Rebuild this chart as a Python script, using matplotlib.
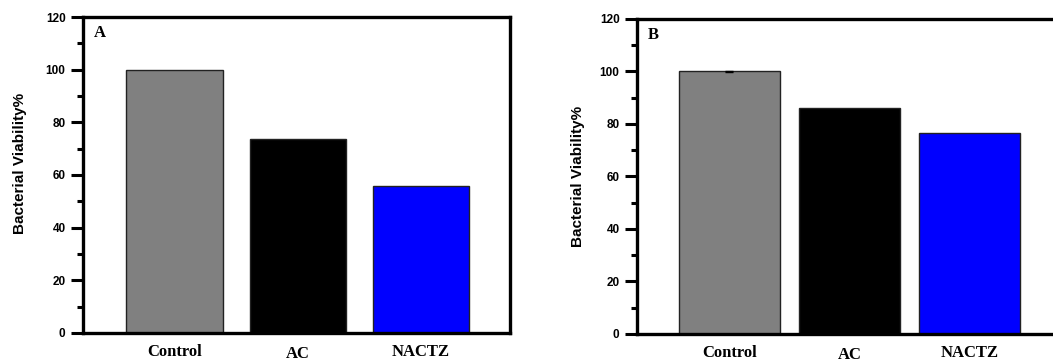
import matplotlib
matplotlib.use("Agg")
import matplotlib.pyplot as plt
from matplotlib.ticker import MultipleLocator

# data
groups = ["Control", "AC", "NACTZ"]
viab_a = [100.0, 73.5, 55.8]
viab_b = [100.0, 86.0, 76.7]
err_b_control = 0.3
bar_colors = ["#808080", "#000000", "#0000ff"]
panel_names = ["A", "B"]

plt.rcParams["font.family"] = ["Liberation Sans", "DejaVu Sans"]

fig = plt.figure(figsize=(10.53, 3.61), dpi=100)
axA = fig.add_axes([0.0788, 0.0776, 0.4055, 0.8753])
axB = fig.add_axes([0.6049, 0.0748, 0.4017, 0.8726])

x = [1, 2, 3]

def style(ax, xlim, lbl, ylab_pos):
    ax.set_ylim(0, 120)
    ax.set_xlim(*xlim)
    ax.yaxis.set_major_locator(MultipleLocator(20))
    ax.yaxis.set_minor_locator(MultipleLocator(10))
    for s in ax.spines.values():
        s.set_linewidth(2.4)
    ax.tick_params(axis="y", which="major", direction="out", length=8.5, width=2.2,
                   labelsize=8.5, pad=4)
    ax.tick_params(axis="y", which="minor", direction="out", length=4.5, width=2.2)
    ax.tick_params(axis="x", length=0, pad=8)
    for t in ax.get_yticklabels():
        t.set_fontweight("bold")
    ax.set_xticks(x)
    ax.set_xticklabels(groups, family=["Liberation Serif", "DejaVu Serif"],
                       fontweight="bold", fontsize=12)
    # AC label sits a bit lower in the original
    ax.get_xticklabels()[1].set_y(-0.006)
    ax.set_ylabel("Bacterial Viability%", fontsize=11, fontweight="bold")
    ax.yaxis.set_label_coords(*ylab_pos)
    ax.text(0.025, 0.95, lbl, transform=ax.transAxes, fontsize=12, fontweight="bold",
            family=["Liberation Serif", "DejaVu Serif"], va="center", ha="left")

axA.bar(x, viab_a, width=0.78, color=bar_colors, edgecolor="#222222", linewidth=1)
style(axA, (0.258, 3.722), panel_names[0], (-0.131, 0.536))

axB.bar(x, viab_b, width=0.84, color=bar_colors, edgecolor="#222222", linewidth=1)
axB.errorbar(x[0], viab_b[0], yerr=err_b_control, fmt="none", ecolor="black",
             elinewidth=1, capsize=3, capthick=1)
style(axB, (0.231, 3.75), panel_names[1], (-0.122, 0.5))

fig.savefig("out.png", dpi=100)
